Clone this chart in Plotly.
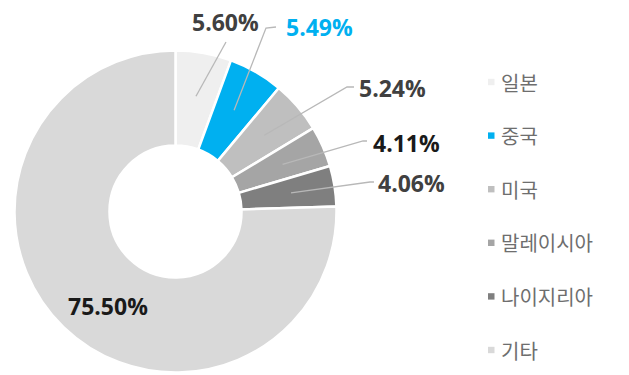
import math
import plotly.graph_objects as go

# Share of imports by country (%)
countries = ["일본", "중국", "미국", "말레이시아", "나이지리아", "기타"]
shares = [5.60, 5.49, 5.24, 4.11, 4.06, 75.50]

slice_colors = ["#efefef", "#00b0f0", "#bfbfbf", "#a5a5a5", "#7f7f7f", "#d9d9d9"]
label_colors = ["#404040", "#00b0f0", "#404040", "#1a1a1a", "#404040", "#1a1a1a"]

W, H = 629, 375
CX, CY, R = 175.5, 211.5, 161.0   # donut centre / outer radius (px)
HOLE = 0.41
TIP_R = 117.0                      # radius where leader lines start (px)

# label centres (px) and leader-line bend points (px) for each slice
label_pos = [(225, 22), (319, 27), (392.5, 87.5), (406.5, 143), (411.5, 182.5), (107.5, 306)]
leader_bends = [
    [(226, 42)],
    [(266, 28), (276, 27)],
    [(347, 87), (354, 87)],
    [(363, 141), (367, 141)],
    [(370, 182), (374, 182)],
    None,
]


def px(x, y):
    return x / W, 1 - y / H


fig = go.Figure(
    go.Pie(
        labels=countries,
        values=shares,
        sort=False,
        direction="clockwise",
        rotation=0,
        hole=HOLE,
        marker=dict(colors=slice_colors, line=dict(color="white", width=2.5)),
        textinfo="none",
        hoverinfo="label+percent",
        showlegend=False,
        domain=dict(x=[(CX - R) / W, (CX + R) / W], y=[1 - (CY + R) / H, 1 - (CY - R) / H]),
    )
)

# mid-angle of every slice, measured clockwise from 12 o'clock
total = sum(shares)
mids, acc = [], 0.0
for v in shares:
    mids.append((acc + v / 2) / total * 2 * math.pi)
    acc += v

shapes, annotations = [], []
for i, v in enumerate(shares):
    lx, ly = label_pos[i]
    annotations.append(dict(
        x=px(lx, ly)[0], y=px(lx, ly)[1], xref="paper", yref="paper",
        text=f"{v:.2f}%", showarrow=False, xanchor="center", yanchor="middle",
        font=dict(family="Open Sans", size=23, color=label_colors[i], weight="bold"),
    ))
    if leader_bends[i]:
        tx = CX + TIP_R * math.sin(mids[i])
        ty = CY - TIP_R * math.cos(mids[i])
        pts = [(tx, ty)] + leader_bends[i]
        path = "M " + " L ".join(f"{px(a, b)[0]:.5f},{px(a, b)[1]:.5f}" for a, b in pts)
        shapes.append(dict(type="path", path=path, xref="paper", yref="paper",
                           line=dict(color="#b8b8b8", width=1.3)))

# legend: small coloured square + country name
LEG_Y0, LEG_STEP = 82.0, 53.6
for i, name in enumerate(countries):
    yc = LEG_Y0 + i * LEG_STEP
    x0, y0 = px(488, yc - 3.2)
    x1, y1 = px(494.5, yc + 3.2)
    shapes.append(dict(type="rect", xref="paper", yref="paper", x0=x0, x1=x1, y0=y1, y1=y0,
                       fillcolor=slice_colors[i], line=dict(width=0)))
    annotations.append(dict(
        x=px(499, yc)[0], y=px(499, yc)[1], xref="paper", yref="paper",
        text=name, showarrow=False, xanchor="left", yanchor="middle",
        font=dict(family="Noto Sans CJK KR", size=20, color="#6e6e6e"),
    ))

fig.update_layout(
    width=W, height=H,
    margin=dict(l=0, r=0, t=0, b=0),
    paper_bgcolor="white", plot_bgcolor="white",
    shapes=shapes, annotations=annotations,
    showlegend=False,
)

fig.write_html("out.html")
